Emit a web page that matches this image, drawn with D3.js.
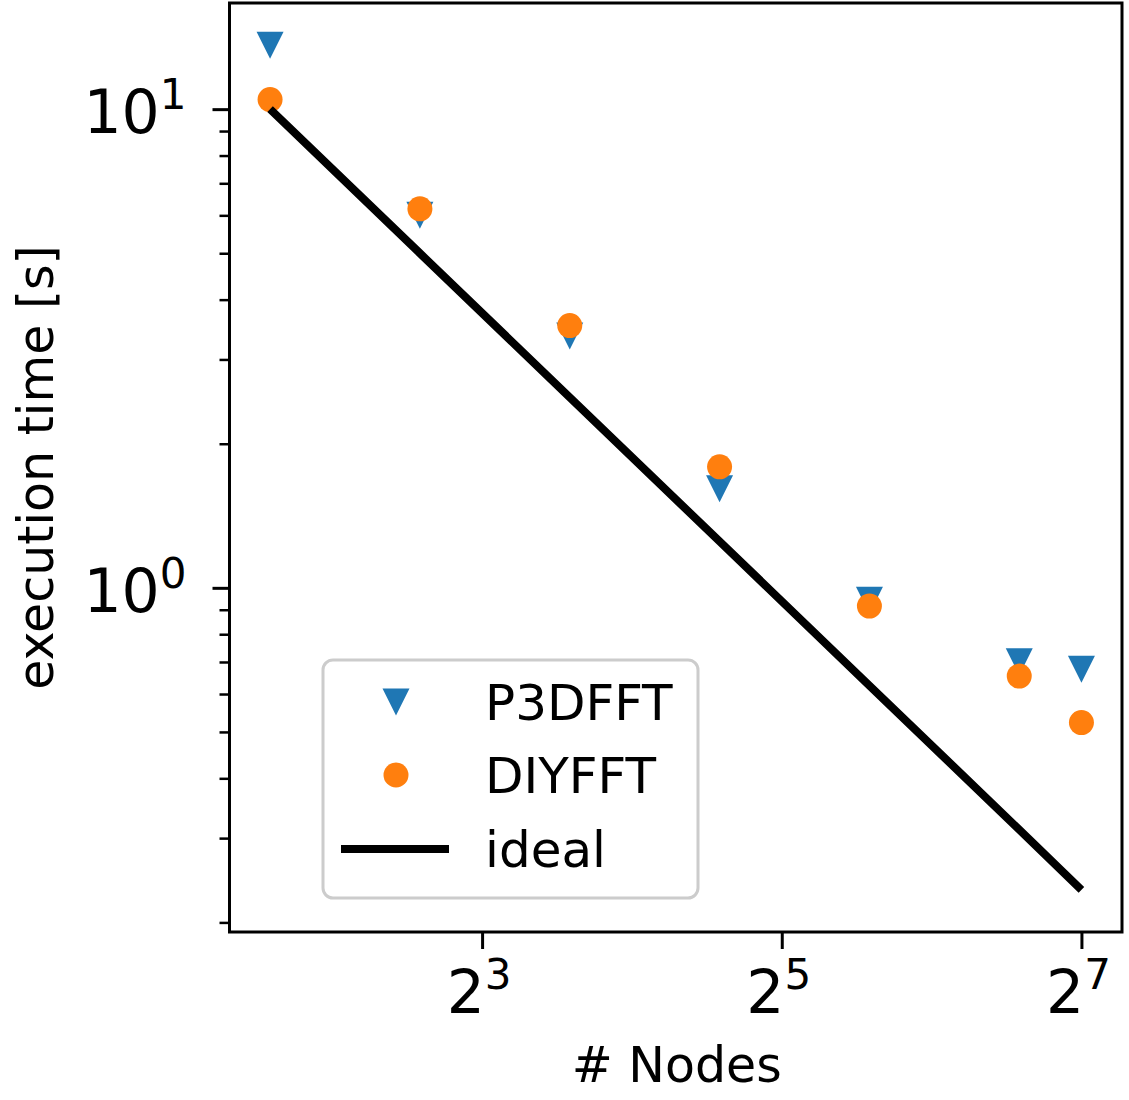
<!DOCTYPE html>
<html>
<head>
<meta charset="utf-8">
<script src="https://cdn.jsdelivr.net/npm/d3@7"></script>
<style>
  body { margin: 0; background: #fff; }
  text { font-family: "DejaVu Sans", sans-serif; fill: #000; }
</style>
</head>
<body>
<svg id="chart"></svg>
<script>
const nodes = [3, 6, 12, 24, 48, 96, 128];
const p3dfftTimes = [13.6, 6.0, 3.36, 1.61, 0.942, 0.701, 0.676];
const diyfftTimes = [10.47, 6.19, 3.53, 1.79, 0.916, 0.654, 0.523];
const idealTimes = [10, 5, 2.5, 1.25, 0.625, 0.3125, 0.234];
const seriesNames = ['P3DFFT', 'DIYFFT', 'ideal'];
const xTickExponents = [3, 5, 7];
const yTickExponents = [0, 1];

const colors = { p3dfft: '#1f77b4', diyfft: '#ff7f0e', ideal: '#000000' };

const W = 1129, H = 1100;
const margin = { top: 3, left: 229.5, right: 7, bottom: 168 };
const width = W - margin.left - margin.right;
const height = H - margin.top - margin.bottom;

// matplotlib style 5% padding in log space
function logPad(lo, hi, base) {
  const a = Math.log(lo) / Math.log(base);
  const b = Math.log(hi) / Math.log(base);
  const p = (b - a) * 0.05;
  return [Math.pow(base, a - p), Math.pow(base, b + p)];
}

const allTimes = p3dfftTimes.concat(diyfftTimes, idealTimes);
const x = d3.scaleLog().base(2)
  .domain(logPad(d3.min(nodes), d3.max(nodes), 2))
  .range([0, width]);
const y = d3.scaleLog().base(10)
  .domain(logPad(d3.min(allTimes), d3.max(allTimes), 10))
  .range([height, 0]);

const svg = d3.select('#chart').attr('width', W).attr('height', H);
const g = svg.append('g').attr('transform', `translate(${margin.left},${margin.top})`);

// minor y ticks (2..9 in each decade)
const yMinor = [];
d3.range(-1, 2).forEach(e => {
  d3.range(2, 10).forEach(m => {
    const v = m * Math.pow(10, e);
    if (v >= y.domain()[0] && v <= y.domain()[1]) yMinor.push(v);
  });
});

g.append('g')
  .call(d3.axisLeft(y).tickValues(yMinor).tickSize(10).tickFormat(''))
  .call(a => a.select('.domain').remove())
  .call(a => a.selectAll('line').attr('stroke', '#000').attr('stroke-width', 2.5));

g.append('g')
  .call(d3.axisLeft(y).tickValues(yTickExponents.map(e => Math.pow(10, e))).tickSize(17).tickFormat(''))
  .call(a => a.select('.domain').remove())
  .call(a => a.selectAll('line').attr('stroke', '#000').attr('stroke-width', 3));

g.append('g')
  .attr('transform', `translate(0,${height})`)
  .call(d3.axisBottom(x).tickValues(xTickExponents.map(e => Math.pow(2, e))).tickSize(17).tickFormat(''))
  .call(a => a.select('.domain').remove())
  .call(a => a.selectAll('line').attr('stroke', '#000').attr('stroke-width', 3));

// tick labels with superscripts
yTickExponents.forEach(e => {
  const t = g.append('text')
    .attr('x', -43)
    .attr('y', y(Math.pow(10, e)) + 24)
    .attr('text-anchor', 'end')
    .style('font-size', '60px');
  t.append('tspan').text('10');
  t.append('tspan').attr('dy', -24).style('font-size', '42px').text(e);
});

xTickExponents.forEach(e => {
  const t = g.append('text')
    .attr('x', x(Math.pow(2, e)) - 3)
    .attr('y', height + 81)
    .attr('text-anchor', 'middle')
    .style('font-size', '60px');
  t.append('tspan').text('2');
  t.append('tspan').attr('dy', -24).style('font-size', '42px').text(e);
});

// axis labels
svg.append('text')
  .attr('x', margin.left + width / 2 + 1)
  .attr('y', 1082)
  .attr('text-anchor', 'middle')
  .style('font-size', '49px')
  .text('# Nodes');

svg.append('text')
  .attr('transform', `translate(53,${margin.top + height / 2}) rotate(-90)`)
  .attr('text-anchor', 'middle')
  .style('font-size', '49px')
  .text('execution time [s]');

// markers
const tri = (cx, cy, s) => `M${cx - s / 2},${cy - s / 2}L${cx + s / 2},${cy - s / 2}L${cx},${cy + s / 2}Z`;

g.append('g').selectAll('path')
  .data(nodes.map((n, i) => [n, p3dfftTimes[i]]))
  .join('path')
  .attr('d', d => tri(x(d[0]), y(d[1]), 27))
  .attr('fill', colors.p3dfft);

g.append('g').selectAll('circle')
  .data(nodes.map((n, i) => [n, diyfftTimes[i]]))
  .join('circle')
  .attr('cx', d => x(d[0]))
  .attr('cy', d => y(d[1]))
  .attr('r', 12.5)
  .attr('fill', colors.diyfft);

const line = d3.line().x(d => x(d[0])).y(d => y(d[1]));
g.append('path')
  .datum(nodes.map((n, i) => [n, idealTimes[i]]))
  .attr('d', line)
  .attr('fill', 'none')
  .attr('stroke', colors.ideal)
  .attr('stroke-width', 8);

// frame
g.append('rect')
  .attr('width', width)
  .attr('height', height)
  .attr('fill', 'none')
  .attr('stroke', '#000')
  .attr('stroke-width', 3);

// legend
const lg = svg.append('g');
lg.append('rect')
  .attr('x', 323).attr('y', 660)
  .attr('width', 375).attr('height', 238)
  .attr('rx', 10)
  .attr('fill', '#fff').attr('fill-opacity', 0.8)
  .attr('stroke', '#cccccc').attr('stroke-width', 3);
lg.append('path').attr('d', tri(396, 702, 27)).attr('fill', colors.p3dfft);
lg.append('circle').attr('cx', 396).attr('cy', 775).attr('r', 12.5).attr('fill', colors.diyfft);
lg.append('line')
  .attr('x1', 341).attr('x2', 449).attr('y1', 849).attr('y2', 849)
  .attr('stroke', colors.ideal).attr('stroke-width', 8);
[720, 793, 867].forEach((by, i) => {
  lg.append('text')
    .attr('x', 485).attr('y', by)
    .style('font-size', '50px')
    .text(seriesNames[i]);
});
</script>
</body>
</html>
